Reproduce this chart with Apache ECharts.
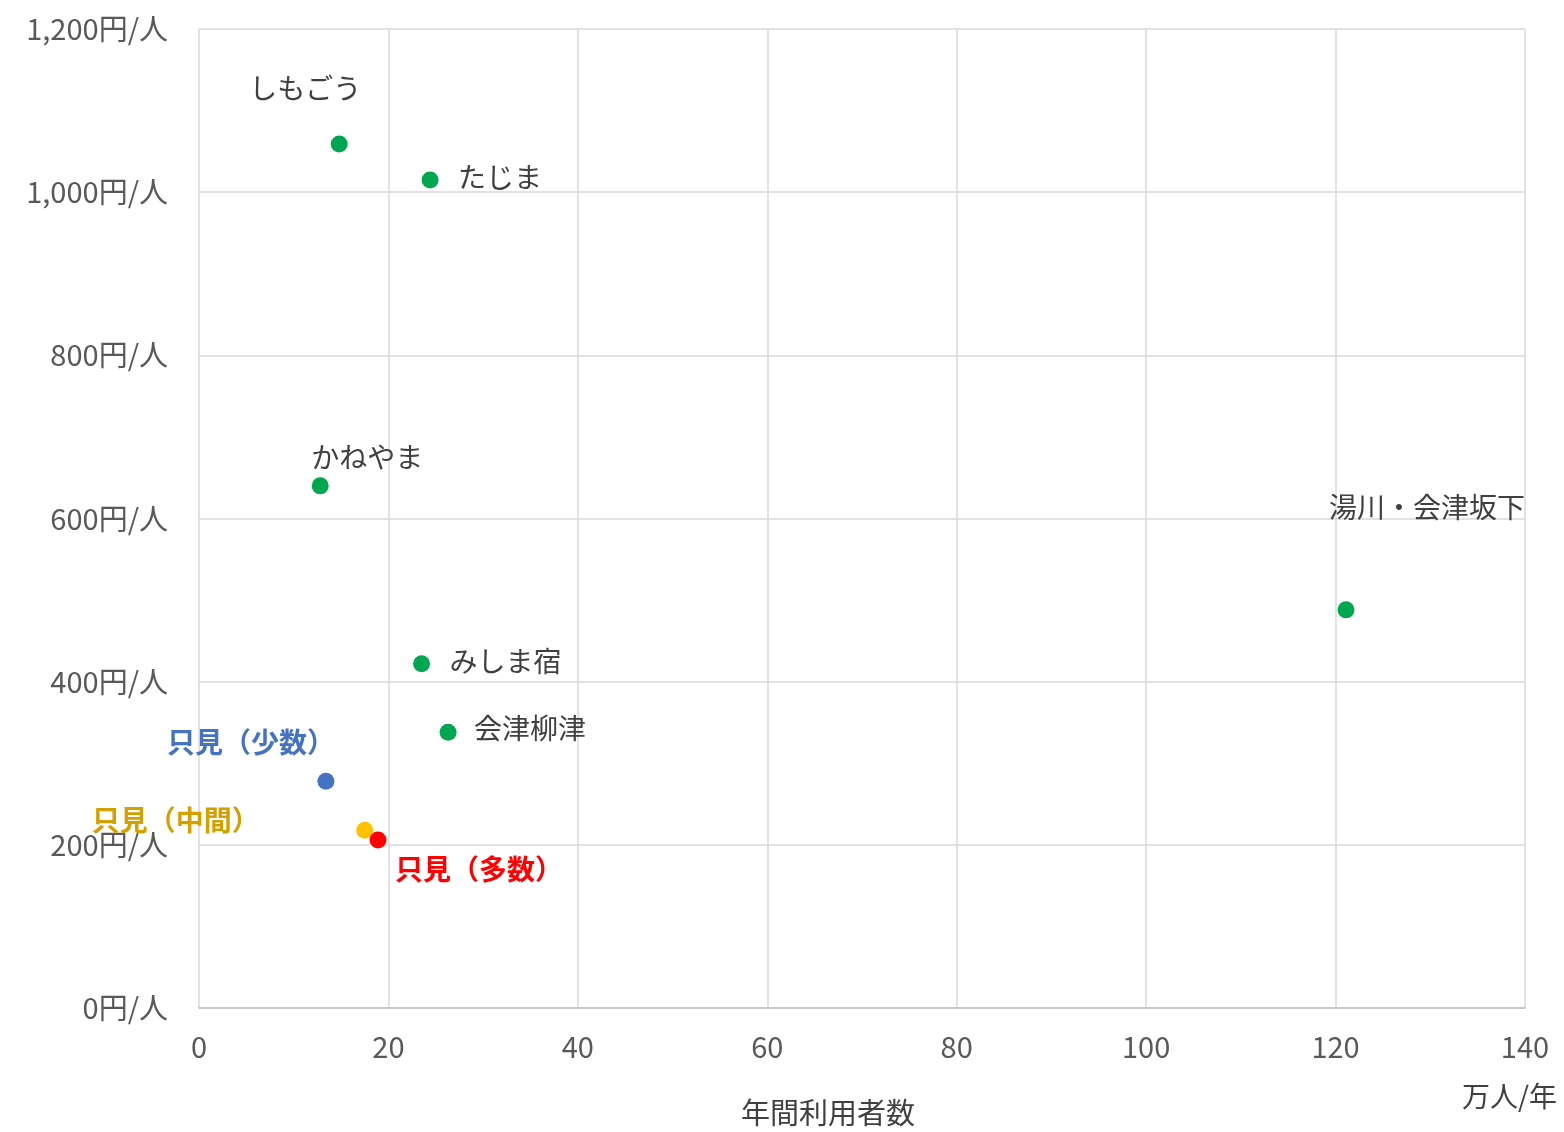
<!DOCTYPE html>
<html>
<head>
<meta charset="utf-8">
<script src="https://cdn.jsdelivr.net/npm/echarts@6/dist/echarts.min.js"></script>
<style>
  html, body { margin: 0; padding: 0; background: #fff; }
  #chart { width: 1564px; height: 1132px; }
</style>
</head>
<body>
<div id="chart"></div>
<script>
// 駅ごとのデータ（年間利用者数：万人/年、1人あたり費用：円/人）
var stations = ['しもごう', 'たじま', 'かねやま', '湯川・会津坂下', 'みしま宿', '会津柳津', '只見（少数）', '只見（中間）', '只見（多数）'];
var users = [14.8, 24.4, 12.8, 121.1, 23.5, 26.3, 13.4, 17.5, 18.9];
var costs = [1059, 1015, 640, 488, 422, 338, 278, 218, 206];
var xTicks = [0, 20, 40, 60, 80, 100, 120, 140];
var yTicks = [0, 200, 400, 600, 800, 1000, 1200];

// 見た目（色・ラベル位置）
var pointColors = ['#00A650', '#00A650', '#00A650', '#00A650', '#00A650', '#00A650', '#4472C4', '#FFC000', '#FF0000'];
var labelColors = ['#404040', '#404040', '#404040', '#404040', '#404040', '#404040', '#4472C4', '#D4A000', '#FF0000'];
var labelBold = [false, false, false, false, false, false, true, true, true];
var labelAlign = ['center', 'left', 'left', 'center', 'left', 'left', 'center', 'center', 'left'];
var labelOffsets = [[-34, -56], [28, -3], [-9, -29], [81, -103], [28, -2], [26, -4], [-75, -39], [-189, -10], [17, 29]];

var FONT = '"Noto Sans CJK JP", "Noto Sans", sans-serif';

function formatYen(v) {
    return v.toLocaleString('en-US') + '円/人';
}

var chartDom = document.getElementById('chart');
var myChart = echarts.init(chartDom);

var seriesData = stations.map(function (name, i) {
    return {
        name: name,
        value: [users[i], costs[i]],
        itemStyle: { color: pointColors[i], opacity: 1 },
        label: {
            show: true,
            formatter: name,
            position: 'inside',
            align: labelAlign[i],
            verticalAlign: 'middle',
            offset: labelOffsets[i],
            color: labelColors[i],
            fontWeight: labelBold[i] ? 'bold' : 'normal',
            fontSize: 28,
            fontFamily: FONT
        }
    };
});

var option = {
    backgroundColor: '#fff',
    animation: false,
    grid: { left: 199, right: 39, top: 29, bottom: 124 },
    xAxis: {
        type: 'value',
        min: xTicks[0],
        max: xTicks[xTicks.length - 1],
        interval: 20,
        name: '万人/年',
        nameLocation: 'end',
        nameGap: 0,
        nameTextStyle: { color: '#404040', fontSize: 28, fontFamily: FONT, align: 'right', verticalAlign: 'top', padding: [74, -32, 0, 0] },
        axisLine: { show: true, lineStyle: { color: '#bfbfbf', width: 1.5 } },
        axisTick: { show: false },
        axisLabel: { color: '#595959', fontSize: 29, fontFamily: FONT, margin: 24 },
        splitLine: { show: true, lineStyle: { color: '#d9d9d9', width: 1.5 } }
    },
    yAxis: {
        type: 'value',
        min: yTicks[0],
        max: yTicks[yTicks.length - 1],
        interval: 200,
        axisLine: { show: false },
        axisTick: { show: false },
        axisLabel: { color: '#595959', fontSize: 29, fontFamily: FONT, margin: 31, formatter: formatYen },
        splitLine: { show: true, lineStyle: { color: '#d9d9d9', width: 1.5 } }
    },
    graphic: [{
        type: 'text',
        x: 828,
        y: 1113,
        style: { text: '年間利用者数', fill: '#404040', font: '29px ' + FONT, align: 'center', verticalAlign: 'middle' }
    }],
    series: [{
        type: 'scatter',
        symbolSize: 17,
        data: seriesData
    }]
};

myChart.setOption(option);
</script>
</body>
</html>
